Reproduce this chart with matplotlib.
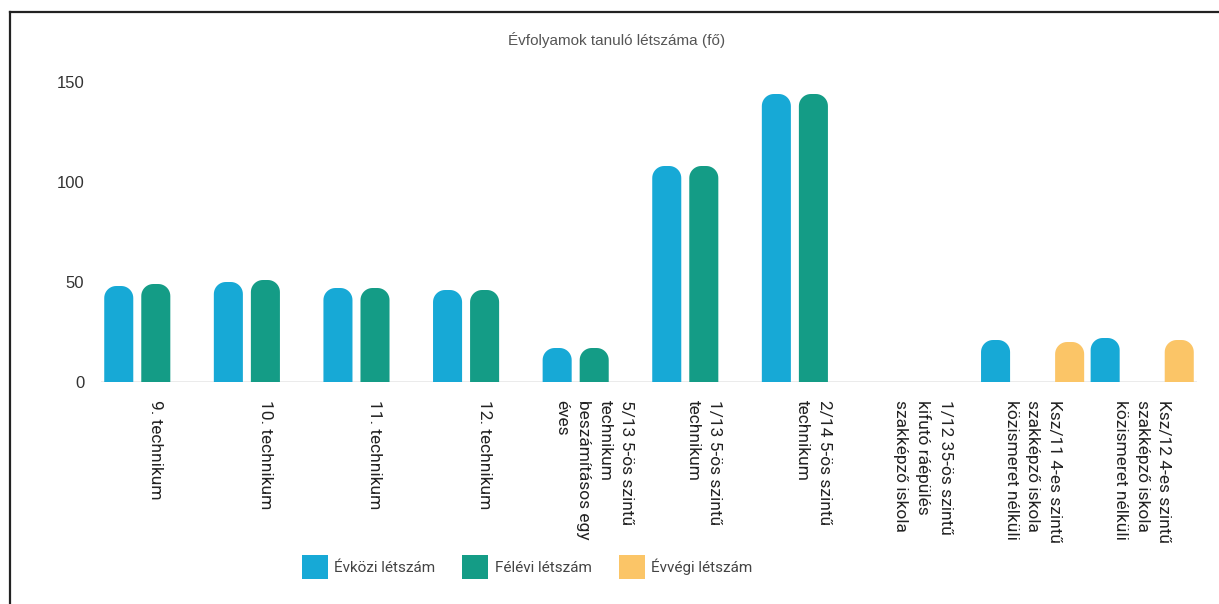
import matplotlib
matplotlib.use('Agg')
from matplotlib import pyplot as plt
from matplotlib.patches import Polygon, Patch
from matplotlib.lines import Line2D
import numpy as np

categories = [
    '9. technikum',
    '10. technikum',
    '11. technikum',
    '12. technikum',
    '5/13 5-ös szintű\ntechnikum\nbeszámításos egy\néves',
    '1/13 5-ös szintű\ntechnikum',
    '2/14 5-ös szintű\ntechnikum',
    '1/12 35-ös szintű\nkifutó ráépülés\nszakképző iskola',
    'Ksz/11 4-es szintű\nszakképző iskola\nközismeret nélküli',
    'Ksz/12 4-es szintű\nszakképző iskola\nközismeret nélküli',
]
evkozi = [48, 50, 47, 46, 17, 108, 144, 0, 21, 22]
felevi = [49, 51, 47, 46, 17, 108, 144, 0, 0, 0]
evvegi = [0, 0, 0, 0, 0, 0, 0, 0, 20, 21]
series_names = ['Évközi létszám', 'Félévi létszám', 'Évvégi létszám']
colors = ['#17a9d6', '#149c86', '#fbc567']

plt.rcParams['font.family'] = ['Roboto', 'DejaVu Sans']

fig = plt.figure(figsize=(12.19, 6.04), dpi=100)
ax = fig.add_axes([101 / 1219, 1 - 382 / 604, 1096 / 1219, 300 / 604])
ax.set_xlim(-0.5, len(categories) - 0.5)
ax.set_ylim(0, 150)

# corner radius in pixels, converted to data units on each axis
px_x = 1096 / len(categories)
px_y = 300 / 150
r_px = 12
rx, ry = r_px / px_x, r_px / px_y
bw = 0.265
step = 0.338
t = np.linspace(0, np.pi / 2, 12)


def rounded_bar(xc, h, color):
    x0, x1 = xc - bw / 2, xc + bw / 2
    r_y = min(ry, h)
    pts = [(x0, 0), (x1, 0)]
    pts += [(x1 - rx + rx * np.cos(a), h - r_y + r_y * np.sin(a)) for a in t]
    pts += [(x0 + rx - rx * np.cos(a), h - r_y + r_y * np.sin(a)) for a in t[::-1]]
    ax.add_patch(Polygon(pts, closed=True, facecolor=color, edgecolor='none'))


x = np.arange(len(categories))
for k, vals in enumerate([evkozi, felevi, evvegi]):
    for i, v in enumerate(vals):
        if v > 0:
            rounded_bar(x[i] + (k - 1) * step, v, colors[k])

ax.axhline(0, color='#e8e8e8', linewidth=1.2, zorder=0)
for s in ax.spines.values():
    s.set_visible(False)
ax.set_yticks([0, 50, 100, 150])
ax.tick_params(axis='y', length=0, pad=12)
for lab in ax.get_yticklabels():
    lab.set_fontfamily(['Liberation Sans', 'DejaVu Sans'])
    lab.set_fontsize(12)
    lab.set_color('#333333')
ax.set_xticks(x)
ax.set_xticklabels([])
ax.tick_params(axis='x', length=0)

for i, lab in enumerate(categories):
    ax.text(x[i], -9, lab, rotation=-90, ha='center', va='top',
            multialignment='left', fontsize=12.5, color='#222222',
            linespacing=1.55)

fig.text(617 / 1219, 1 - 40 / 604, 'Évfolyamok tanuló létszáma (fő)',
         ha='center', va='center', fontsize=11, color='#555555',
         family=['Liberation Sans', 'DejaVu Sans'])

handles = [Patch(facecolor=c, edgecolor='none') for c in colors]
fig.legend(handles, series_names, loc='center', ncol=3,
           bbox_to_anchor=(527 / 1219, 1 - 567 / 604), frameon=False,
           fontsize=11, handlelength=1.7, handleheight=2.0,
           handletextpad=0.4, columnspacing=1.8, labelcolor='#444444')

# screenshot frame
fig.add_artist(Line2D([10 / 1219, 1], [1 - 12 / 604] * 2, color='#222222', lw=1.6))
fig.add_artist(Line2D([10 / 1219] * 2, [0, 1 - 12 / 604], color='#222222', lw=1.6))

fig.savefig('out.png', dpi=100)
plt.close(fig)
